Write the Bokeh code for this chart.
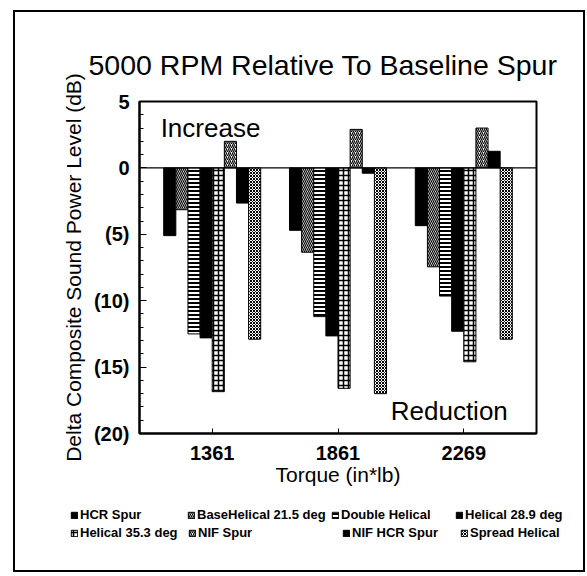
from bokeh.plotting import figure
from bokeh.models import Range1d, FixedTicker, Legend, LegendItem, Label, Span
from bokeh.layouts import column
from bokeh.embed import file_html
from bokeh.resources import INLINE

# ---- data ----
categories = ["1361", "1861", "2269"]
series_names = ["HCR Spur", "BaseHelical 21.5 deg", "Double Helical", "Helical 28.9 deg",
                "Helical 35.3 deg", "NIF Spur", "NIF HCR Spur", "Spread Helical"]
hcr_spur = [-5.1, -4.7, -4.35]
base_helical_215 = [-3.15, -6.35, -7.45]
double_helical = [-12.5, -11.2, -9.65]
helical_289 = [-12.8, -12.65, -12.3]
helical_353 = [-16.85, -16.6, -14.6]
nif_spur = [2.0, 2.9, 3.0]
nif_hcr_spur = [-2.65, -0.4, 1.25]
spread_helical = [-12.9, -17.0, -12.9]
y_ticks = [5, 0, -5, -10, -15, -20]
y_tick_labels = ["5", "0", "(5)", "(10)", "(15)", "(20)"]

series_values = [hcr_spur, base_helical_215, double_helical, helical_289,
                 helical_353, nif_spur, nif_hcr_spur, spread_helical]

# ---- styles ----
styles = [
    dict(fill_color="black"),
    dict(fill_color="white", hatch_pattern="left_diagonal_line", hatch_scale=4, hatch_weight=1.2),
    dict(fill_color="white", hatch_pattern="horizontal_line", hatch_scale=4, hatch_weight=2),
    dict(fill_color="black"),
    dict(fill_color="white", hatch_pattern="cross", hatch_scale=5, hatch_weight=1.5),
    dict(fill_color="white", hatch_pattern="right_diagonal_line", hatch_scale=4, hatch_weight=1.2),
    dict(fill_color="black"),
    dict(fill_color="white", hatch_pattern="diagonal_cross", hatch_scale=3, hatch_weight=1),
]

FONT = "Liberation Sans"

p = figure(width=568, height=490,
           x_range=Range1d(-0.578, 2.578), y_range=Range1d(-20, 5),
           output_backend="svg", toolbar_location=None,
           min_border_left=124, min_border_right=47, min_border_top=89, min_border_bottom=69)
p.frame_align = False
p.background_fill_color = "white"
p.border_fill_color = "white"
p.outline_line_color = "black"
p.outline_line_width = 2
p.xgrid.visible = False
p.ygrid.visible = False

bw = 0.0964
cat_idx = list(range(len(categories)))
renderers = []
for i, (vals, st) in enumerate(zip(series_values, styles)):
    xs = [j + (i - 3.5) * bw for j in cat_idx]
    r = p.vbar(x=xs, top=vals, bottom=0, width=bw, line_color="black", line_width=1,
               hatch_color="black", **st)
    renderers.append(r)

p.add_layout(Span(location=0, dimension="width", line_color="black", line_width=1.2))

# axes
p.yaxis.ticker = FixedTicker(ticks=y_ticks, minor_ticks=list(range(-20, 6)))
p.yaxis.major_label_overrides = {t: l for t, l in zip(y_ticks, y_tick_labels)}
p.xaxis.ticker = FixedTicker(ticks=cat_idx)
p.xaxis.major_label_overrides = {j: c for j, c in zip(cat_idx, categories)}
for ax in (p.xaxis[0], p.yaxis[0]):
    ax.axis_line_color = "black"
    ax.axis_line_width = 2
    ax.major_tick_line_color = "black"
    ax.minor_tick_line_color = "black"
    ax.major_tick_out = 0
    ax.minor_tick_out = 0
    ax.major_label_text_font = FONT
    ax.major_label_text_font_size = "20px"
    ax.major_label_text_font_style = "bold"
    ax.major_label_text_color = "black"
    ax.axis_label_text_font = FONT
    ax.axis_label_text_font_size = "21px"
    ax.axis_label_text_font_style = "normal"
    ax.axis_label_text_color = "black"
p.yaxis.major_tick_in = 7
p.yaxis.minor_tick_in = 4
p.xaxis.major_tick_in = 5
p.xaxis.minor_tick_in = 0
p.yaxis.major_label_standoff = 10
p.xaxis.major_label_standoff = 12
p.yaxis.axis_label = "Delta Composite Sound Power Level (dB)"
p.xaxis.axis_label = "Torque (in*lb)"
p.yaxis.axis_label_standoff = 6
p.xaxis.axis_label_standoff = 0

# title
p.title.text = "5000 RPM Relative To Baseline Spur"
p.title.text_font = FONT
p.title.text_font_size = "28.5px"
p.title.text_font_style = "normal"
p.title.text_color = "black"
p.title.align = "left"
p.title.offset = -51
p.title.standoff = 42

# annotations
p.add_layout(Label(x=-0.41, y=2.98, text="Increase", text_font=FONT, text_font_size="26px",
                   text_baseline="alphabetic", text_color="black"))
p.add_layout(Label(x=2.35, y=-18.32, text="Reduction", text_font=FONT, text_font_size="26px",
                   text_baseline="alphabetic", text_align="right", text_color="black"))

# ---- legend strip: hidden copies of the bar series supply the swatches ----
lf = figure(width=568, height=68, x_range=Range1d(-0.578, 2.578), y_range=Range1d(-20, 5),
            x_axis_type=None, y_axis_type=None, output_backend="svg", toolbar_location=None,
            min_border_left=0, min_border_right=0, min_border_top=0, min_border_bottom=0)
lf.frame_align = False
lf.outline_line_color = None
lf.xgrid.visible = False
lf.ygrid.visible = False
lf.background_fill_color = "white"
lf.border_fill_color = "white"

legend_pos = [(55, 48), (172, 48), (316, 48), (440, 48),
              (55, 30), (173, 30), (327, 30), (445, 30)]
for i, (name, vals, st, (lx, ly)) in enumerate(zip(series_names, series_values, styles, legend_pos)):
    xs = [j + (i - 3.5) * bw for j in cat_idx]
    proxy = lf.vbar(x=xs, top=vals, bottom=0, width=bw, line_color="black", line_width=1,
                    hatch_color="black", visible=False, **st)
    lg = Legend(items=[LegendItem(label=name, renderers=[proxy])], location=(lx, ly),
                padding=0, margin=0, spacing=0, glyph_width=8, glyph_height=8,
                label_standoff=2, label_height=12, label_text_font=FONT,
                label_text_font_size="13px", label_text_font_style="bold",
                label_text_color="black", border_line_alpha=0, background_fill_alpha=0,
                inactive_fill_alpha=0)
    lf.add_layout(lg, "center")

layout = column(p, lf, spacing=0)
layout.margin = (12, 0, 0, 15)
layout.styles = {"outline": "2px solid black"}

open("out.html", "w").write(file_html(layout, INLINE))
